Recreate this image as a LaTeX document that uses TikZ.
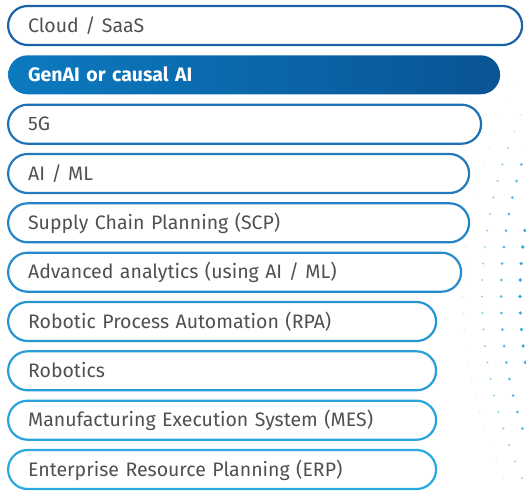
\documentclass[tikz,border=0pt]{standalone}
\usepackage{fontspec}
\setmainfont{Fira Sans}

\definecolor{rimdark}{RGB}{28,98,168}
\definecolor{rimlight}{RGB}{42,168,226}
\definecolor{genaileft}{RGB}{12,122,192}
\definecolor{genairight}{RGB}{10,84,148}
\definecolor{labelgray}{RGB}{80,80,80}
\definecolor{dotblue}{RGB}{40,168,228}

\tikzset{
	pill/.style={draw, line width=2.2pt, rounded corners=19.5pt, minimum height=39pt,
		anchor=west, inner xsep=20pt, inner ysep=0pt, text width=#1pt, align=left,
		text height=13.4pt, text depth=0pt, text=labelgray,
		font=\fontsize{19.5}{19.5}\selectfont},
	genaipill/.style={pill=#1, draw=none, left color=genaileft, right color=genairight,
		text=white, font=\fontsize{19.5}{19.5}\selectfont\bfseries},
}

\begin{document}
\begin{tikzpicture}[x=1pt, y=-1pt]
	\useasboundingbox (0,0) rectangle (526,490);

%% Dots
	\begin{scope}
	\clip (0,0) rectangle (526,490);
	\foreach \j/\op/\rad in {-1/0.15/1.0, 0/0.5/1.2, 1/0.8/1.5, 2/0.95/1.8} {
		\foreach \n in {-2,...,23} {
			\pgfmathsetmacro\dy{115+16.5*\n}
			\pgfmathsetmacro\dx{482+19*\j+(0.03464*(\dy-295))^2}
			\pgfmathsetmacro\fade{\op*min(1,max(0.15,(\dy-95)/70))}
			\fill[dotblue, opacity=\fade] (\dx,\dy) circle (\rad);
		}
	}
	\end{scope}

%% Boxes
	\node[pill=474, draw=rimdark] (cloud) at (7,25.5) {Cloud / SaaS};
	\node[genaipill=452] (genai) at (7,74.8) {GenAI or causal AI};
	\node[pill=433, draw=rimlight!20!rimdark] (fiveg) at (7,124.2) {5G};
	\node[pill=421, draw=rimlight!35!rimdark] (aiml) at (7,173.5) {AI / ML};
	\node[pill=421, draw=rimlight!50!rimdark] (scp) at (7,222.8) {Supply Chain Planning (SCP)};
	\node[pill=413, draw=rimlight!62!rimdark] (analytics) at (7,272.2) {Advanced analytics (using AI / ML)};
	\node[pill=388, draw=rimlight!74!rimdark] (rpa) at (7,321.5) {Robotic Process Automation (RPA)};
	\node[pill=388, draw=rimlight!85!rimdark] (robotics) at (7,370.8) {Robotics};
	\node[pill=388, draw=rimlight!93!rimdark] (mes) at (7,420.2) {Manufacturing Execution System (MES)};
	\node[pill=388, draw=rimlight] (erp) at (7,469.5) {Enterprise Resource Planning (ERP)};
\end{tikzpicture}
\end{document}
